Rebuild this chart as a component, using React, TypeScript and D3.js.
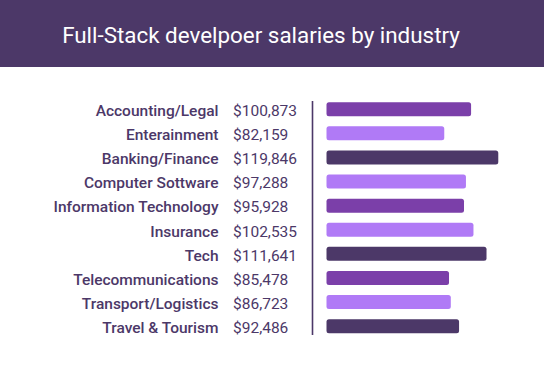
import React, { useEffect, useRef } from 'react';
import * as d3 from 'd3';

const industries = [
  'Accounting/Legal',
  'Enterainment',
  'Banking/Finance',
  'Computer Sottware',
  'Information Technology',
  'Insurance',
  'Tech',
  'Telecommunications',
  'Transport/Logistics',
  'Travel & Tourism',
];
const salaries = [100873, 82159, 119846, 97288, 95928, 102535, 111641, 85478, 86723, 92486];
// shade of each bar: 0 medium, 1 light, 2 dark
const shades = [0, 1, 2, 1, 0, 1, 2, 0, 1, 2];
const barColors = ['#7b3fa9', '#b07af6', '#4c3868'];

export default function App() {
  const svgRef = useRef<SVGSVGElement>(null);

  useEffect(() => {
    if (!svgRef.current) return;
    const width = 544;
    const height = 371;
    const svg = d3.select(svgRef.current);
    svg.selectAll('*').remove();

    svg.attr('width', width).attr('height', height).attr('viewBox', [0, 0, width, height]);

    svg.append('rect').attr('width', width).attr('height', height).attr('fill', '#fff');

    // title banner
    svg.append('rect')
      .attr('x', 0).attr('y', 0)
      .attr('width', width).attr('height', 67)
      .attr('fill', '#4c3868');
    svg.append('text')
      .attr('x', width / 2 - 11)
      .attr('y', 42.5)
      .attr('text-anchor', 'middle')
      .attr('fill', '#fff')
      .attr('font-family', 'Roboto, sans-serif')
      .attr('font-size', 22.4)
      .text('Full-Stack develpoer salaries by industry');

    const y = d3.scaleBand<string>()
      .domain(industries)
      .range([97.2, 338.2])
      .paddingInner(0.42)
      .paddingOuter(0.21);

    const x = d3.scaleLinear()
      .domain([0, 120000])
      .range([326.5, 326.5 + 172]);

    const fmt = d3.format('$,');

    // axis line
    svg.append('line')
      .attr('x1', 312.5).attr('x2', 312.5)
      .attr('y1', 101).attr('y2', 335)
      .attr('stroke', '#4c3868')
      .attr('stroke-width', 1.6);

    const rows = svg.append('g')
      .selectAll('g')
      .data(industries)
      .join('g');

    rows.append('rect')
      .attr('x', x(0))
      .attr('y', d => y(d)!)
      .attr('width', (d, i) => x(salaries[i]) - x(0))
      .attr('height', y.bandwidth())
      .attr('rx', 2.5)
      .attr('fill', (d, i) => barColors[shades[i]]);

    rows.append('text')
      .attr('x', 218.5)
      .attr('y', d => y(d)! + y.bandwidth() / 2 + 6.8)
      .attr('text-anchor', 'end')
      .attr('fill', '#4c3868')
      .attr('font-family', 'Roboto, sans-serif')
      .attr('font-weight', 500)
      .attr('font-size', 15.5)
      .text(d => d);

    rows.append('text')
      .attr('x', 233)
      .attr('y', d => y(d)! + y.bandwidth() / 2 + 6.8)
      .attr('fill', '#4c3868')
      .attr('font-family', 'Roboto, sans-serif')
      .attr('font-size', 15.5)
      .text((d, i) => fmt(salaries[i]));
  }, []);

  return (
    <div style={{ position: 'absolute', left: 0, top: 0 }}>
      <svg ref={svgRef} style={{ display: 'block' }} />
    </div>
  );
}
